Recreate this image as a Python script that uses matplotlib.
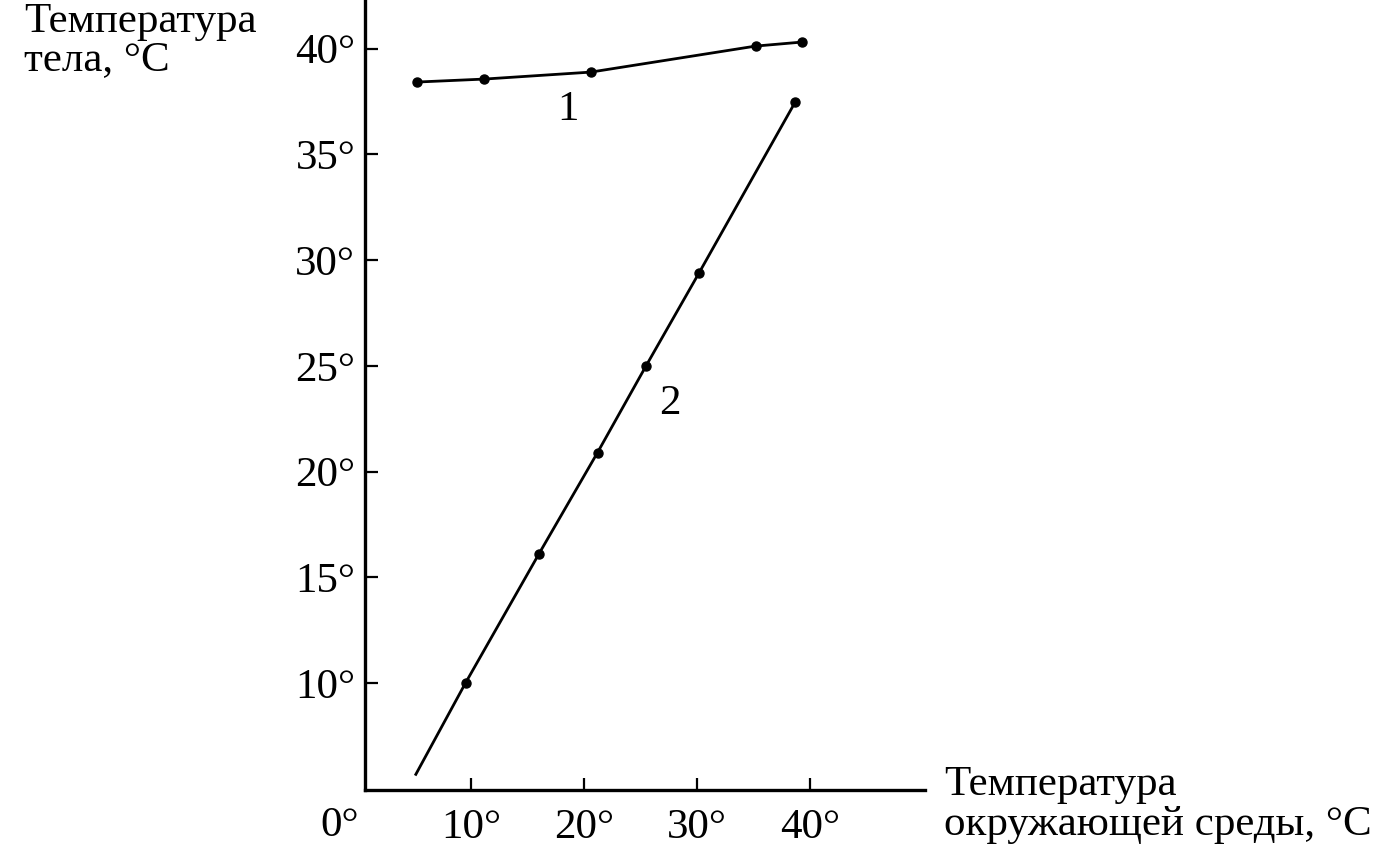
import matplotlib.pyplot as plt

# curve 1: body temperature stays almost constant
env_1 = [5.2, 11.15, 20.6, 35.2, 39.3]
body_1 = [38.42, 38.56, 38.89, 40.12, 40.31]

# curve 2: body temperature follows the environment
env_2 = [9.5, 16.0, 21.2, 25.5, 30.2, 38.7]
body_2 = [10.0, 16.1, 20.9, 25.0, 29.4, 37.46]
start_2 = (5.1, 5.68)

x_ticks = [10, 20, 30, 40]
y_ticks = [10, 15, 20, 25, 30, 35, 40]

plt.rcParams["font.family"] = ["Liberation Serif", "DejaVu Serif"]
fs = 31

fig = plt.figure(figsize=(13.96, 8.5), dpi=100)
ax = fig.add_axes([0.2615, 0.0706, 0.401, 0.9294])

ax.plot([start_2[0]] + env_2, [start_2[1]] + body_2, color="black", lw=2)
ax.plot(env_2, body_2, "o", color="black", ms=6.5)
ax.plot(env_1, body_1, "o-", color="black", lw=2, ms=6.5)

ax.set_xlim(0.6, 50.2)
ax.set_ylim(4.94, 42.3)

for side in ("top", "right"):
    ax.spines[side].set_visible(False)
for side in ("left", "bottom"):
    ax.spines[side].set_linewidth(2.4)

ax.set_xticks(x_ticks)
ax.set_xticklabels([f"{v}°" for v in x_ticks])
ax.set_yticks(y_ticks)
ax.set_yticklabels([f"{v}°" for v in y_ticks])
ax.tick_params(direction="in", length=9, width=1.6, labelsize=fs, pad=13)
ax.tick_params(axis="y", pad=7)

ax.text(18.6, 37.1, "1", fontsize=fs, ha="center", va="center")
ax.text(27.6, 23.2, "2", fontsize=fs, ha="center", va="center")

fig.text(0.243, 0.029, "0°", fontsize=fs, ha="center", va="center")
fig.text(0.017, 0.997, "Температура\nтела, °С", fontsize=fs, ha="left", va="top",
         linespacing=0.98)
fig.text(0.676, 0.053, "Температура\nокружающей среды, °С", fontsize=fs,
         ha="left", va="center", linespacing=1.05)

fig.savefig("out.png", dpi=100)
